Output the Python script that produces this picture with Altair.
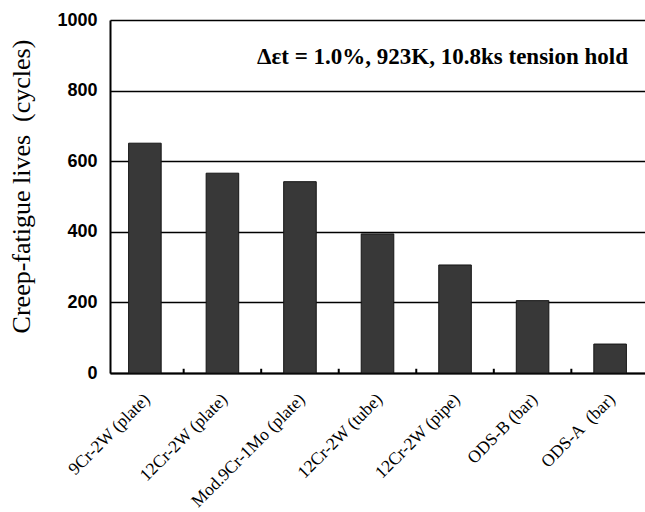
import altair as alt
import pandas as pd

# Creep-fatigue lives of the ferritic/martensitic steels and ODS alloys
materials = [
    "9Cr-2W (plate)",
    "12Cr-2W (plate)",
    "Mod.9Cr-1Mo (plate)",
    "12Cr-2W (tube)",
    "12Cr-2W (pipe)",
    "ODS-B (bar)",
    "ODS-A\u00a0 (bar)",
]
lives = [651, 566, 542, 394, 306, 205, 82]
y_ticks = [0, 200, 400, 600, 800, 1000]
boundaries = [1, 2, 3, 4, 5, 6]
note = "Δεt = 1.0%, 923K, 10.8ks tension hold"

W, H = 535, 353

df = pd.DataFrame({"material": materials, "life": lives})
bounds_df = pd.DataFrame({"pos": boundaries})

y_scale = alt.Scale(domain=[0, 1000], nice=False)

bars = alt.Chart(df).mark_bar(
    color="#383838", stroke="#151515", strokeWidth=1
).encode(
    x=alt.X(
        "material:N",
        sort=materials,
        scale=alt.Scale(paddingInner=0.58, paddingOuter=0.24),
        axis=alt.Axis(
            title=None,
            labelAngle=-45,
            labelFont="Liberation Serif",
            labelFontSize=17.5,
            labelColor="black",
            labelPadding=17,
            labelOffset=-4,
            ticks=False,
            domainColor="black",
            domainWidth=2,
        ),
    ),
    y=alt.Y(
        "life:Q",
        scale=y_scale,
        axis=alt.Axis(
            values=y_ticks,
            format="d",
            title="Creep-fatigue lives\u00a0 (cycles)",
            titleFont="Liberation Serif",
            titleFontSize=26,
            titleFontWeight="normal",
            titleColor="black",
            titlePadding=22,
            titleY=166,
            labelFont="Liberation Sans",
            labelFontWeight="bold",
            labelFontSize=18,
            labelColor="black",
            labelPadding=13,
            ticks=False,
            domainColor="black",
            domainWidth=2,
            grid=True,
            gridColor="black",
            gridWidth=1.6,
            gridOpacity=1,
        ),
    ),
)

# short inward ticks between neighbouring bars
ticks = alt.Chart(bounds_df).mark_rule(color="black", strokeWidth=2).encode(
    x=alt.X("pos:Q", scale=alt.Scale(domain=[0.05, 6.95], nice=False, zero=False), axis=None),
    y=alt.datum(0, scale=y_scale),
    y2=alt.datum(12),
)

label = alt.Chart(pd.DataFrame({"t": [note]})).mark_text(
    align="right",
    baseline="middle",
    font="Liberation Serif",
    fontWeight="bold",
    fontSize=23,
    color="black",
).encode(
    x=alt.value(518),
    y=alt.datum(895, scale=y_scale),
    text="t:N",
)

chart = (
    alt.layer(bars, ticks, label)
    .resolve_scale(x="independent")
    .properties(
        width=W,
        height=H,
        autosize=alt.AutoSizeParams(type="none"),
        padding={"left": 110, "top": 20, "right": 0, "bottom": 139},
        background="white",
    )
    .configure_view(stroke=None)
)

chart.save("out.html", embed_options={"renderer": "svg", "actions": False})
